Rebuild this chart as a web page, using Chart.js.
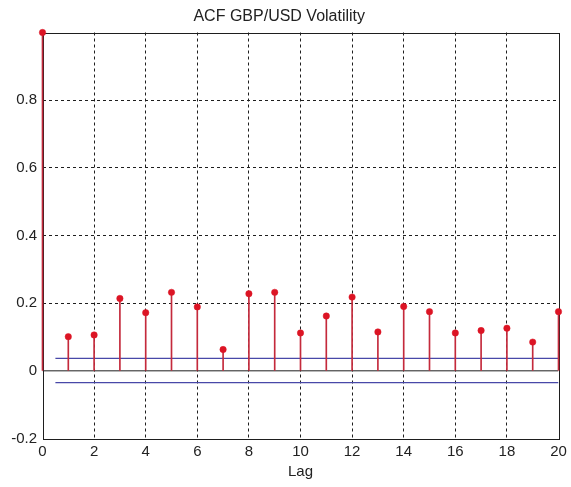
<!DOCTYPE html>
<html>
<head>
<meta charset="utf-8">
<script src="https://cdn.jsdelivr.net/npm/chart.js@4"></script>
<style>
html,body{margin:0;padding:0;background:#fff;}
#wrap{width:571px;height:487px;position:relative;}
</style>
</head>
<body>
<div id="wrap"><canvas id="c"></canvas></div>
<script>
// ---- data ----
const titleText = "ACF GBP/USD Volatility";
const xLabel = "Lag";
const lags = [0,1,2,3,4,5,6,7,8,9,10,11,12,13,14,15,16,17,18,19,20];
const acf  = [1.0,0.101,0.106,0.214,0.172,0.232,0.189,0.063,0.228,0.232,0.112,0.162,0.218,0.115,0.190,0.175,0.112,0.119,0.126,0.085,0.175];
const upperBound = 0.037;
const lowerBound = -0.035;
const boundStartLag = 0.5;
const xTicksStep = 2;
const yTickValues = [-0.2,0,0.2,0.4,0.6,0.8,1.0];

const FONT = "'Liberation Sans', Arial, sans-serif";

const stemData = lags.map((l,i)=>({x:l,y:acf[i]}));
const pointData = lags.map((l,i)=>({x:l,y:acf[i]}));
const lastLag = lags[lags.length-1];

const boxPlugin = {
  id:'box',
  beforeDatasetsDraw(chart){
    const {ctx, chartArea:a} = chart;
    ctx.save();
    ctx.strokeStyle = '#1e1e1e';
    ctx.lineWidth = 1;
    ctx.setLineDash([]);
    ctx.strokeRect(Math.round(a.left)+0.5, Math.round(a.top)+0.5, Math.round(a.right-a.left), Math.round(a.bottom-a.top));
    ctx.restore();
  }
};

const near = (a,b)=>Math.abs(a-b)<1e-6;
const tv = (c)=> (c && c.tick) ? c.tick.value : NaN;

new Chart(document.getElementById('c'), {
  data: {
    datasets: [
      {
        type:'scatter', label:'acf', data: pointData, order:0,
        pointRadius:3.2, pointHoverRadius:3.2, pointBackgroundColor:'#dc1424', pointBorderColor:'#dc1424', pointBorderWidth:0.5,
        clip:false
      },
      {
        type:'bar', label:'stems', data: stemData, order:1,
        backgroundColor:'#c42a3c', barThickness:1, borderWidth:0, grouped:false, clip:false
      },
      {
        type:'line', label:'upper', data:[{x:boundStartLag,y:upperBound},{x:lastLag,y:upperBound}], order:2,
        borderColor:'#4848a8', borderWidth:1.3, pointRadius:0, fill:false
      },
      {
        type:'line', label:'lower', data:[{x:boundStartLag,y:lowerBound},{x:lastLag,y:lowerBound}], order:2,
        borderColor:'#4848a8', borderWidth:1.3, pointRadius:0, fill:false
      },
      {
        type:'line', label:'zero', data:[{x:lags[0],y:0},{x:lastLag,y:0}], order:3,
        borderColor:'#1e1e1e', borderWidth:1, pointRadius:0, fill:false
      }
    ]
  },
  options: {
    responsive:true, maintainAspectRatio:false, animation:false,
    layout:{padding:{left:0,right:12.5,top:0,bottom:0}},
    plugins:{
      legend:{display:false}, tooltip:{enabled:false},
      title:{display:true, text:titleText, color:'#222', font:{family:FONT,size:16,weight:'normal'}, padding:{top:7.2,bottom:6.1}}
    },
    scales:{
      x:{
        type:'linear', min:0, max:20, offset:false,
        ticks:{stepSize:xTicksStep, color:'#222', font:{family:FONT,size:15}, padding:4, maxRotation:0, autoSkip:false},
        grid:{offset:false, drawTicks:false, lineWidth:1, color:(c)=> (near(tv(c),0)||near(tv(c),20)) ? 'rgba(0,0,0,0)' : '#1e1e1e'},
        border:{display:false, dash:[3,3]},
        title:{display:true, text:xLabel, color:'#222', font:{family:FONT,size:15}, padding:{top:0,bottom:6.3}},
        afterFit(s){ s.height = 48.5; }
      },
      y:{
        type:'linear', min:-0.2, max:1.0,
        afterBuildTicks(s){ s.ticks = yTickValues.map(v=>({value:v})); },
        ticks:{color:'#222', font:{family:FONT,size:15}, padding:5.5,
          callback:(v)=> near(v,1) ? '' : String(Math.round(v*10)/10)},
        grid:{drawTicks:false, lineWidth:1, color:(c)=> (near(tv(c),-0.2)||near(tv(c),1)||near(tv(c),0)) ? 'rgba(0,0,0,0)' : '#1e1e1e'},
        border:{display:false, dash:[3,3]},
        afterFit(s){ s.width = 42.5; }
      }
    }
  },
  plugins:[boxPlugin]
});
</script>
</body>
</html>
